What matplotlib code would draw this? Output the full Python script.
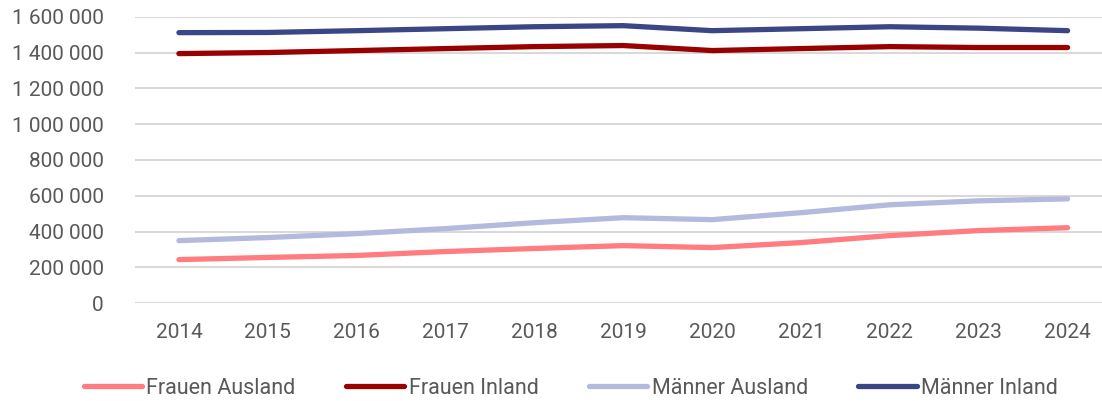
import matplotlib.pyplot as plt
from matplotlib.ticker import FuncFormatter, MultipleLocator

years = [2014, 2015, 2016, 2017, 2018, 2019, 2020, 2021, 2022, 2023, 2024]
frauen_ausland = [244000, 256000, 267000, 289000, 306000, 322000, 311000, 339000, 378000, 406000, 422000]
frauen_inland = [1394000, 1400000, 1411000, 1422000, 1433000, 1439000, 1411000, 1422000, 1433000, 1428000, 1428000]
maenner_ausland = [350000, 367000, 389000, 417000, 450000, 478000, 467000, 506000, 550000, 572000, 583000]
maenner_inland = [1511000, 1512000, 1522000, 1533000, 1544000, 1550000, 1522000, 1533000, 1544000, 1536000, 1522000]

plt.rcParams['font.family'] = ['Roboto', 'DejaVu Sans']
grey = '#595959'

fig = plt.figure(figsize=(11.02, 4.01), dpi=100)
# axes runs a bit past the right edge, like the original
ax = fig.add_axes([134.5 / 1102, 97.7 / 401, 977.5 / 1102, 286.6 / 401])

x = range(len(years))
ax.plot(x, frauen_ausland, color='#FF7C80', lw=3.8, solid_capstyle='round', label='Frauen Ausland')
ax.plot(x, frauen_inland, color='#990000', lw=3.8, solid_capstyle='round', label='Frauen Inland')
ax.plot(x, maenner_ausland, color='#B4B9DE', lw=3.8, solid_capstyle='round', label='Männer Ausland')
ax.plot(x, maenner_inland, color='#3A4686', lw=3.8, solid_capstyle='round', label='Männer Inland')

ax.set_xlim(-0.5, len(years) - 0.5)
ax.set_ylim(0, 1600000)
ax.yaxis.set_major_locator(MultipleLocator(200000))
ax.yaxis.set_major_formatter(FuncFormatter(lambda v, p: f"{v:,.0f}".replace(",", " ")))
ax.set_xticks(list(x))
ax.set_xticklabels([str(y) for y in years])
ax.grid(axis='y', color='#D9D9D9', lw=1.5)
ax.set_axisbelow(True)
for s in ax.spines.values():
    s.set_visible(False)
ax.tick_params(length=0, colors=grey, labelsize=15)
ax.tick_params(axis='x', pad=14)
ax.tick_params(axis='y', pad=22)

fig.legend(loc='center', bbox_to_anchor=(0.518, 0.032), ncol=4, frameon=False,
           fontsize=15.5, labelcolor=grey, handlelength=2.7, handletextpad=0.2,
           columnspacing=2.35)

fig.savefig('out.png', dpi=100)
